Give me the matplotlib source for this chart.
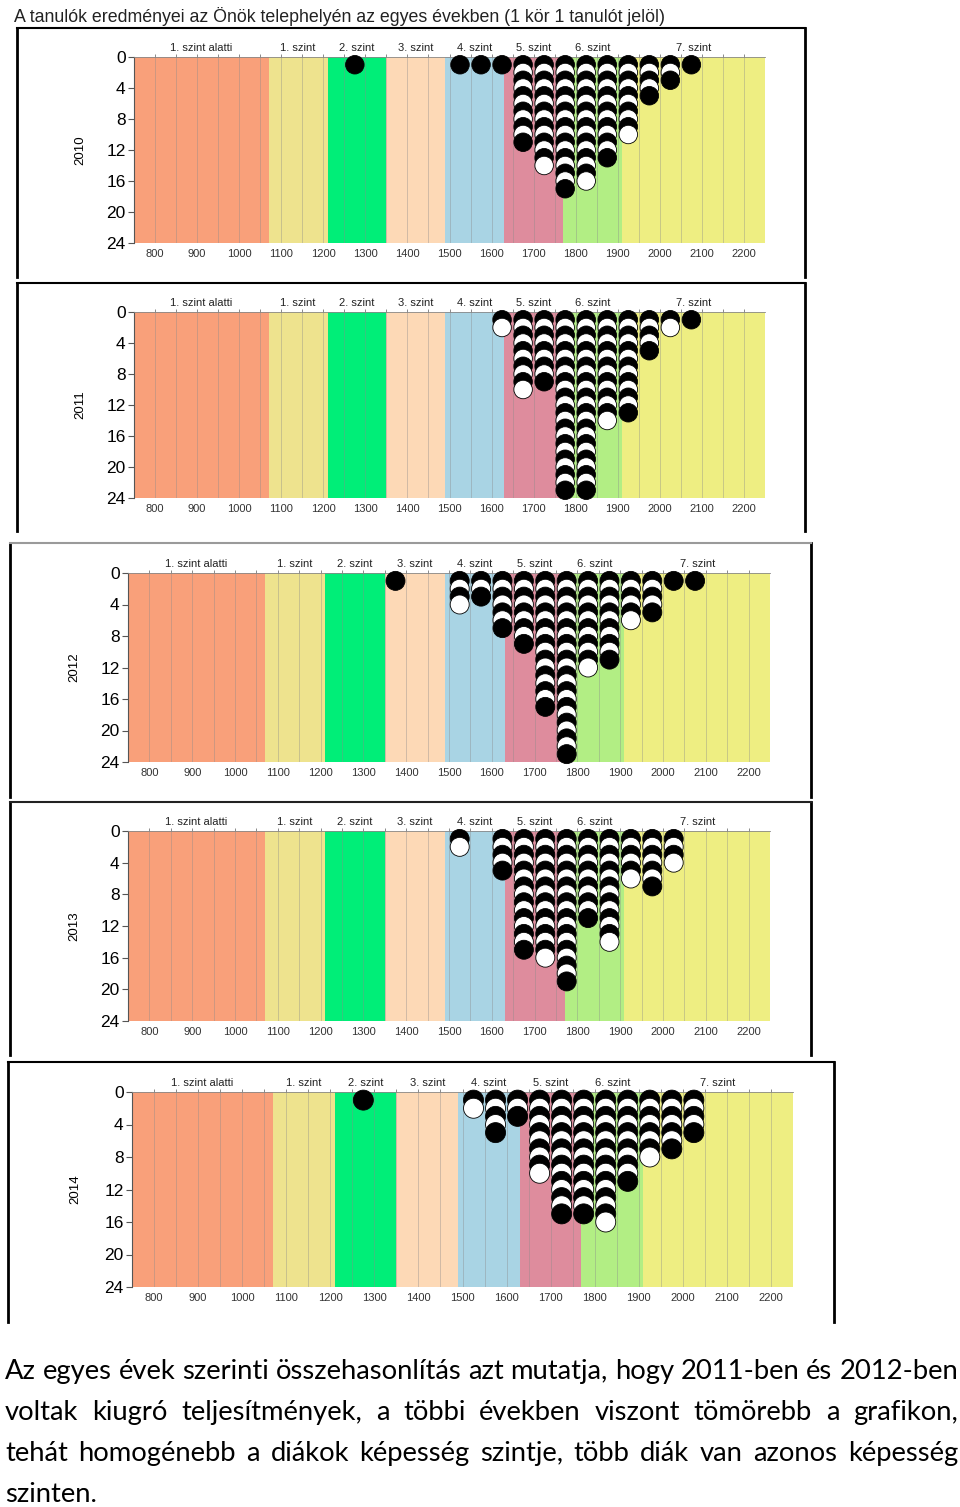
import numpy as np
import matplotlib
matplotlib.use("Agg")
import matplotlib.pyplot as plt
from matplotlib.lines import Line2D
from matplotlib.ticker import FixedLocator

W, H, DPI = 960, 1507, 100

title = "A tanulók eredményei az Önök telephelyén az egyes években (1 kör 1 tanulót jelöl)"
years = ["2010", "2011", "2012", "2013", "2014"]

# bin centres (score scale) and number of students per bin, per year
bin_centers = [1275, 1375, 1525, 1575, 1625, 1675, 1725, 1775, 1825, 1875, 1925, 1975, 2025, 2075]
counts_2010 = [1, 0, 1, 1, 1, 11, 14, 17, 16, 13, 10, 5, 3, 1]
counts_2011 = [0, 0, 0, 0, 2, 10, 9, 23, 23, 14, 13, 5, 2, 1]
counts_2012 = [0, 1, 4, 3, 7, 9, 17, 23, 12, 11, 6, 5, 1, 1]
counts_2013 = [0, 0, 2, 0, 5, 15, 16, 19, 11, 14, 6, 7, 4, 0]
counts_2014 = [1, 0, 2, 5, 3, 10, 15, 15, 16, 11, 8, 7, 5, 0]
all_counts = [counts_2010, counts_2011, counts_2012, counts_2013, counts_2014]

level_names = ["1. szint alatti", "1. szint", "2. szint", "3. szint",
               "4. szint", "5. szint", "6. szint", "7. szint"]
level_edges = [750, 1070, 1210, 1350, 1490, 1630, 1770, 1910, 2250]
level_colors = ["#F9A07A", "#EEE38E", "#00EE78", "#FDD9B6",
                "#A9D4E4", "#DE8C9D", "#B2EE84", "#EEEE82"]

x_ticks = list(range(800, 2201, 100))
grid_minor = list(range(850, 2201, 100))
y_ticks = [0, 4, 8, 12, 16, 20, 24]

paragraph_lines = [
    "Az egyes évek szerinti összehasonlítás azt mutatja, hogy 2011-ben és 2012-ben",
    "voltak kiugró teljesítmények, a többi években viszont tömörebb a grafikon,",
    "tehát homogénebb a diákok képesség szintje, több diák van azonos képesség",
    "szinten.",
]

# ---- layout (pixels, y measured from top) ----
panel_boxes = [(134, 57, 765, 243), (134, 312, 765, 498), (128, 573, 770, 762),
               (128, 831, 770, 1021), (132, 1092, 793, 1287)]
frames = [(17, 28, 805, 277), (17, 283, 805, 531), (10, 543, 811, 797),
          (10, 802, 811, 1055), (8, 1062, 834, 1322)]
frame_top_colors = ["black", "black", "#9a9a9a", "#222222", "black"]
marker_px = [18.5, 18.5, 19.0, 19.0, 20.0]
year_label_px = [86, 86, 80, 80, 81]   # right edge of the rotated year label

plt.rcParams["font.family"] = ["Liberation Sans", "DejaVu Sans"]
fig = plt.figure(figsize=(W / DPI, H / DPI), dpi=DPI)
fig.patch.set_facecolor("white")


def fx(x):
    return x / W


def fy(y):
    return 1 - y / H


for k, (year, counts) in enumerate(zip(years, all_counts)):
    x0, y0, x1, y1 = panel_boxes[k]
    ax = fig.add_axes([fx(x0), fy(y1), (x1 - x0) / W, (y1 - y0) / H])
    ax.set_xlim(level_edges[0], level_edges[-1])
    ax.set_ylim(24, 0)
    ax.set_facecolor("white")
    for i in range(len(level_names)):
        ax.axvspan(level_edges[i], level_edges[i + 1], color=level_colors[i], lw=0, zorder=0)

    ax.set_xticks(x_ticks)
    ax.xaxis.set_minor_locator(FixedLocator(grid_minor))
    ax.grid(True, which="both", axis="x", color="#8a8a8a", lw=0.6, alpha=0.45, zorder=1)
    ax.set_axisbelow(True)
    ax.tick_params(axis="x", which="both", bottom=False, top=True, labelbottom=True,
                   labeltop=False, length=2.5, width=0.6, color="#777777",
                   labelsize=8, labelcolor="#333333", pad=1.5)
    ax.set_yticks(y_ticks)
    ax.tick_params(axis="y", length=4, width=0.8, color="#555555", labelsize=12.5, pad=2)

    for s in ["right", "bottom"]:
        ax.spines[s].set_visible(False)
    ax.spines["left"].set_color("#555555")
    ax.spines["left"].set_linewidth(0.8)
    ax.spines["top"].set_color("#888888")
    ax.spines["top"].set_linewidth(0.6)

    # level labels on a secondary top axis
    sec = ax.secondary_xaxis("top")
    centers = [(level_edges[i] + level_edges[i + 1]) / 2 for i in range(len(level_names))]
    sec.set_xticks(centers)
    sec.set_xticklabels(level_names)
    sec.tick_params(length=0, pad=3, labelsize=8, labelcolor="#222222")
    sec.spines["top"].set_visible(False)

    ax.set_ylabel(year, fontsize=9.5)
    ax.yaxis.set_label_coords(-(x0 - year_label_px[k]) / (x1 - x0), 0.5)

    xs, ys, cs = [], [], []
    for c, n in zip(bin_centers, counts):
        for i in range(1, n + 1):
            xs.append(c)
            ys.append(i)
            cs.append("black" if i % 2 == 1 else "white")
    order = np.argsort(ys, kind="stable")
    xs = np.array(xs)[order]
    ys = np.array(ys)[order]
    cs = np.array(cs)[order]
    msize = (marker_px[k] * 72 / DPI) ** 2
    ax.scatter(xs, ys, s=msize, c=list(cs), edgecolors="black", linewidths=0.6,
               zorder=3, clip_on=False)

# frames round each panel
for k, (a, b, c, d) in enumerate(frames):
    fig.add_artist(Line2D([fx(a), fx(a)], [fy(d), fy(b)], color="black", lw=2.0,
                          transform=fig.transFigure))
    fig.add_artist(Line2D([fx(c), fx(c)], [fy(d), fy(b)], color="black", lw=2.0,
                          transform=fig.transFigure))
    fig.add_artist(Line2D([fx(a), fx(c)], [fy(b), fy(b)], color=frame_top_colors[k], lw=1.5,
                          transform=fig.transFigure))

renderer = fig.canvas.get_renderer()

# title sized to span the reference width
t = fig.text(fx(14), fy(16), title, fontsize=13, color="#222222", va="center", ha="left")
wpx = t.get_window_extent(renderer).width
t.set_fontsize(13 * 651 / wpx)

# justified paragraph
para_font = ["Lato", "DejaVu Sans"]
left, right = 5, 958
baselines = [1379, 1420, 1461, 1502]
fs = 20.0


def measure(word, size):
    tt = fig.text(0, 0, word, fontsize=size, family=para_font)
    w = tt.get_window_extent(renderer).width
    tt.remove()
    return w


while True:
    ok = True
    for line in paragraph_lines[:-1]:
        words = line.split()
        tot = sum(measure(w_, fs) for w_ in words) + (len(words) - 1) * 0.22 * fs * DPI / 72
        if tot > right - left:
            ok = False
            break
    if ok:
        break
    fs -= 0.25

for li, line in enumerate(paragraph_lines):
    words = line.split()
    widths = [measure(w_, fs) for w_ in words]
    if li < len(paragraph_lines) - 1 and len(words) > 1:
        gap = (right - left - sum(widths)) / (len(words) - 1)
    else:
        gap = 0.27 * fs * DPI / 72
    x = left
    for w_, wd in zip(words, widths):
        fig.text(fx(x), fy(baselines[li]), w_, fontsize=fs, family=para_font,
                 va="baseline", ha="left", color="black")
        x += wd + gap

fig.savefig("out.png", dpi=DPI)
